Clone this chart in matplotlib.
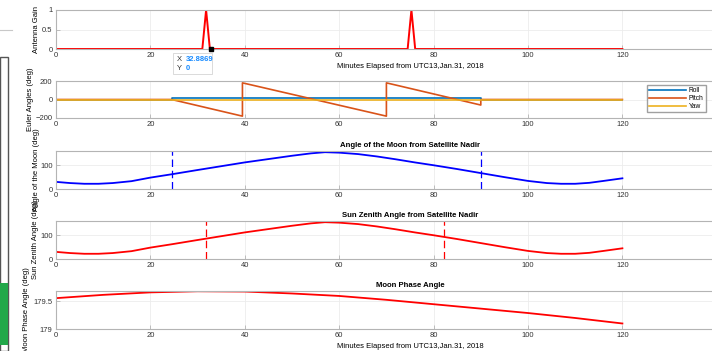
import matplotlib
matplotlib.use('Agg')
import matplotlib.pyplot as plt
from matplotlib.patches import Rectangle
from matplotlib.lines import Line2D

plt.rcParams['font.family'] = ['Liberation Sans', 'DejaVu Sans']
plt.rcParams['font.size'] = 5.5

# Antenna gain spikes
gain_t = [0, 31.0, 31.8, 32.6, 74.5, 75.3, 76.1, 120]
gain_v = [0, 0, 1, 0, 0, 1, 0, 0]
tip_x, tip_y = 32.8869, 0

# Euler angles (deg)
roll_t = [0, 24.5, 24.5, 90, 90, 120]
roll_v = [0, 0, 20, 20, 0, 0]
pitch_t = [0, 24.5, 39.5, 39.5, 70, 70, 90, 90, 120]
pitch_v = [0, 0, -180, 180, -180, 180, -60, 0, 0]
yaw_t = [0, 120]
yaw_v = [0, 0]

# Moon angle from satellite nadir (deg)
moon_t = [0, 3, 6, 9, 12, 16, 20, 24.5, 30, 35, 40, 45, 50, 54, 57, 60, 64,
          68, 72, 76, 80, 85, 90, 95, 100, 104, 107, 110, 113, 116, 120]
moon_v = [30, 25, 22, 22, 25, 33, 48, 62, 80, 96, 112, 126, 140, 150, 155, 153, 147,
          137, 125, 112, 100, 84, 67, 50, 34, 25, 22, 22, 26, 34, 45]
moon_marks = [24.5, 90]

# Sun zenith angle from satellite nadir (deg)
sun_t = [0, 3, 6, 9, 12, 16, 20, 24.5, 30, 35, 40, 45, 50, 54, 57, 60, 64,
         68, 72, 76, 80, 85, 90, 95, 100, 104, 107, 110, 113, 116, 120]
sun_v = [30, 25, 22, 22, 25, 33, 48, 62, 80, 96, 112, 126, 140, 150, 155, 153, 147,
         137, 125, 112, 100, 84, 67, 50, 34, 25, 22, 22, 26, 34, 45]
sun_marks = [31.8, 82.2]

# Moon phase angle (deg)
phase_t = [0, 10, 20, 30, 40, 50, 60, 70, 80, 90, 100, 110, 120]
phase_v = [179.56, 179.62, 179.665, 179.685, 179.68, 179.645, 179.60, 179.53,
           179.45, 179.37, 179.29, 179.20, 179.10]

xticks = [0, 20, 40, 60, 80, 100, 120, 140]
xticklabels = ['0', '20', '40', '60', '80', '100', '120', '']
xlab = 'Minutes Elapsed from UTC13,Jan.31, 2018'
box_c = '#b4b4b4'
grid_c = '#ececec'
tick_c = '#333333'
title_kw = dict(fontsize=5.6, fontweight='bold', pad=3)

fig = plt.figure(figsize=(7.12, 3.51), dpi=100)

# left-hand panel remnants
fig.add_artist(Line2D([0, 12 / 712], [1 - 30 / 351, 1 - 30 / 351], color='#c8c8c8', lw=0.8))
fig.add_artist(Rectangle((0, 0), 8 / 712, 1 - 57 / 351, facecolor='white',
                         edgecolor='#555555', lw=1.0))
fig.add_artist(Rectangle((0, 6 / 351), 8 / 712, 62 / 351, facecolor='#22a84a',
                         edgecolor='none'))

left = 56 / 712
width = 708 / 712


def make_ax(top_px, bot_px):
    ax = fig.add_axes([left, 1 - bot_px / 351, width, (bot_px - top_px) / 351])
    ax.set_xlim(0, 150)
    ax.set_xticks(xticks)
    ax.set_xticklabels(xticklabels)
    ax.grid(True, color=grid_c, lw=0.6)
    ax.set_axisbelow(True)
    ax.tick_params(direction='in', length=3, width=0.6, colors=box_c,
                   labelcolor=tick_c, labelsize=5.5, pad=2.5)
    for s in ax.spines.values():
        s.set_color(box_c)
        s.set_linewidth(0.8)
    return ax


def place_ylabel(ax, text, right_px):
    # put the rotated label's right edge at a fixed pixel column
    ax.set_ylabel(text)
    ax.yaxis.set_label_coords((right_px - 56) / 708, 0.5)


ax1 = make_ax(10, 49)
ax1.plot(gain_t, gain_v, color='#ff0000', lw=1.4)
ax1.set_ylim(0, 1)
ax1.set_yticks([0, 0.5, 1])
ax1.set_yticklabels(['0', '0.5', '1'])
place_ylabel(ax1, 'Antenna Gain', 40)
ax1.set_xlabel(xlab, labelpad=2.5)

# data tip
ax1.plot([tip_x], [tip_y], marker='s', ms=2.2, color='black', clip_on=False, zorder=5)
ax1.add_patch(Rectangle((tip_x - 8.2, -0.63), 8.4, 0.52, fc='white', ec='#d4d4d4',
                        lw=0.6, clip_on=False, zorder=3))
ax1.text(tip_x - 7.2, -0.27, 'X', fontsize=5.5, color='#333333', va='center', zorder=4)
ax1.text(tip_x - 5.4, -0.27, f'{tip_x:.4f}', fontsize=5.5, color='#1a8cff',
         fontweight='bold', va='center', zorder=4)
ax1.text(tip_x - 7.2, -0.49, 'Y', fontsize=5.5, color='#333333', va='center', zorder=4)
ax1.text(tip_x - 5.4, -0.49, f'{tip_y}', fontsize=5.5, color='#1a8cff',
         fontweight='bold', va='center', zorder=4)

ax2 = make_ax(81, 118)
ax2.plot(roll_t, roll_v, color='#0072BD', lw=1.2, label='Roll')
ax2.plot(pitch_t, pitch_v, color='#D95319', lw=1.2, label='Pitch')
ax2.plot(yaw_t, yaw_v, color='#EDB120', lw=1.2, label='Yaw')
ax2.set_ylim(-200, 200)
ax2.set_yticks([-200, 0, 200])
place_ylabel(ax2, 'Euler Angles (deg)', 34)
fig.legend(loc='upper right', bbox_to_anchor=(709 / 712, 1 - 82 / 351), fontsize=4.8,
           frameon=True, fancybox=False, edgecolor='#888888', handlelength=5.5,
           borderpad=0.3, labelspacing=0.15, handletextpad=0.5)

ax3 = make_ax(151, 189)
ax3.plot(moon_t, moon_v, color='#0000ff', lw=1.3)
for m in moon_marks:
    ax3.axvline(m, color='#0000ff', ls=(0, (6, 3)), lw=0.9)
ax3.set_ylim(0, 160)
ax3.set_yticks([0, 100])
ax3.set_title('Angle of the Moon from Satellite Nadir', **title_kw)
place_ylabel(ax3, 'Angle of the Moon (deg)', 40)

ax4 = make_ax(221, 259)
ax4.plot(sun_t, sun_v, color='#ff0000', lw=1.3)
for m in sun_marks:
    ax4.axvline(m, color='#ff0000', ls=(0, (6, 3)), lw=0.9)
ax4.set_ylim(0, 160)
ax4.set_yticks([0, 100])
ax4.set_title('Sun Zenith Angle from Satellite Nadir', **title_kw)
place_ylabel(ax4, 'Sun Zenith Angle (deg)', 39)

ax5 = make_ax(291, 329)
ax5.plot(phase_t, phase_v, color='#ff0000', lw=1.3)
ax5.set_ylim(179, 179.69)
ax5.set_yticks([179, 179.5])
ax5.set_yticklabels(['179', '179.5'])
ax5.set_title('Moon Phase Angle', **title_kw)
place_ylabel(ax5, 'Moon Phase Angle (deg)', 30)
ax5.set_xlabel(xlab, labelpad=2.5)

fig.savefig('out.png', dpi=100)
